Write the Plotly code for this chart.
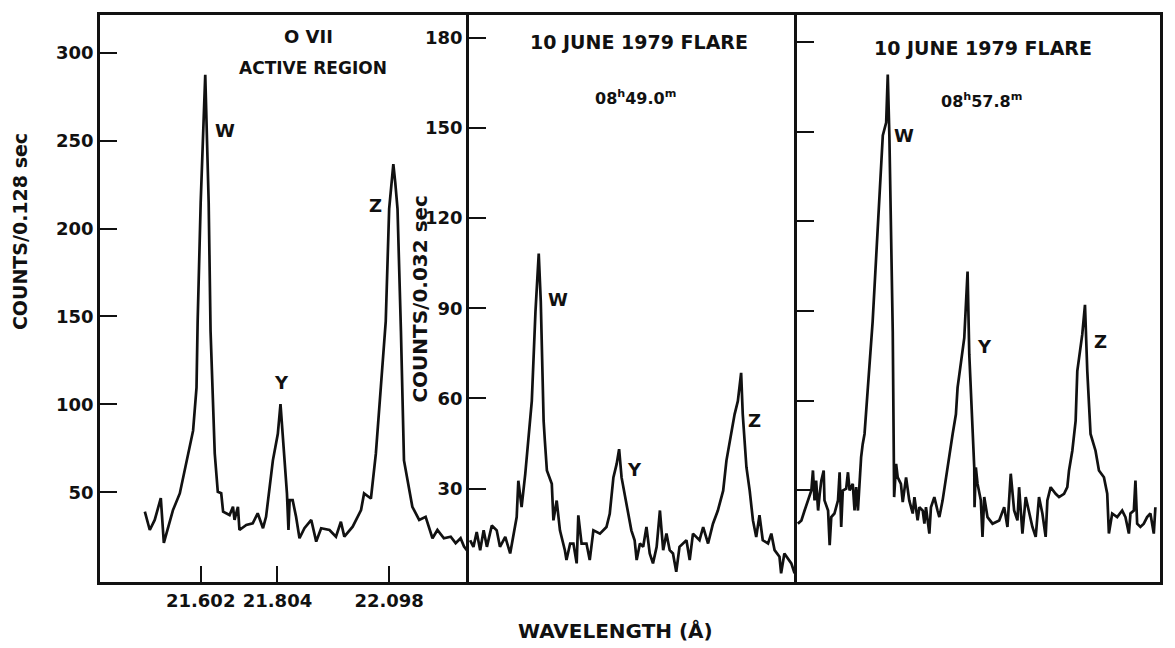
import plotly.graph_objects as go

# ---------------- O VII active region spectrum (counts / 0.128 s) ----------------
ar_wavelength = [21.455, 21.468, 21.481, 21.497, 21.505, 21.529, 21.547, 21.564, 21.582, 21.591,
                 21.594, 21.602, 21.614, 21.623, 21.628, 21.639, 21.647, 21.656, 21.661, 21.678,
                 21.687, 21.691, 21.700, 21.704, 21.722, 21.739, 21.752, 21.766, 21.774, 21.792,
                 21.805, 21.812, 21.822, 21.829, 21.833, 21.836, 21.844, 21.853, 21.862, 21.875,
                 21.893, 21.906, 21.919, 21.941, 21.958, 21.971, 21.980, 22.002, 22.024, 22.032,
                 22.050, 22.063, 22.076, 22.089, 22.098, 22.106, 22.109, 22.114, 22.120, 22.129,
                 22.137, 22.159, 22.177, 22.194, 22.212, 22.225, 22.242, 22.260, 22.273, 22.286,
                 22.295, 22.308]
ar_counts = [38.9, 28.5, 34.2, 46.6, 21.2, 39.8, 49.3, 66.4, 85.0, 109.5,
             147.2, 215.0, 287.5, 215.0, 141.5, 72.0, 50.2, 49.4, 38.9, 37.0,
             41.7, 34.2, 41.7, 28.5, 31.4, 32.3, 38.0, 29.5, 36.0, 68.1,
             83.2, 100.1, 71.9, 49.3, 28.5, 45.5, 45.5, 36.0, 23.8, 29.5,
             34.2, 21.9, 29.5, 28.5, 24.7, 33.2, 24.7, 30.4, 39.8, 49.3,
             46.4, 71.9, 109.5, 147.2, 211.2, 231.9, 236.6, 226.3, 211.2, 141.5,
             68.1, 41.7, 34.2, 36.0, 23.8, 28.5, 23.8, 24.7, 21.0, 23.8,
             19.1, 15.4]

# ---------------- 10 June 1979 flare, 08h49.0m (counts / 0.032 s) ----------------
f1_wavelength = [21.434, 21.442, 21.450, 21.4585, 21.467, 21.475, 21.487, 21.499, 21.507, 21.520,
                 21.532, 21.540, 21.548, 21.552, 21.560, 21.569, 21.577, 21.585, 21.594, 21.602,
                 21.607, 21.614, 21.617, 21.622, 21.634, 21.638, 21.646, 21.654, 21.666, 21.670,
                 21.679, 21.687, 21.695, 21.699, 21.707, 21.719, 21.727, 21.736, 21.752, 21.768,
                 21.776, 21.785, 21.793, 21.799, 21.805, 21.817, 21.829, 21.837, 21.842, 21.850,
                 21.858, 21.866, 21.874, 21.882, 21.891, 21.899, 21.907, 21.915, 21.923, 21.931,
                 21.939, 21.947, 21.964, 21.972, 21.980, 21.996, 22.005, 22.017, 22.029, 22.041,
                 22.054, 22.062, 22.074, 22.082, 22.090, 22.098, 22.102, 22.111, 22.119, 22.127,
                 22.135, 22.143, 22.151, 22.164, 22.172, 22.180, 22.192, 22.196, 22.204, 22.221,
                 22.229]
f1_counts = [12.8, 10.6, 15.5, 9.5, 16.1, 10.6, 17.7, 16.1, 10.6, 13.9,
             8.4, 15.0, 20.5, 32.6, 23.8, 34.9, 48.1, 59.1, 88.9, 108.2,
             92.3, 52.5, 45.9, 36.0, 31.6, 19.4, 26.0, 16.1, 9.5, 6.2,
             11.7, 11.7, 5.1, 21.1, 11.7, 11.7, 6.2, 16.1, 15.0, 17.2,
             21.6, 33.7, 38.2, 43.1, 33.7, 24.9, 16.1, 12.8, 6.2, 11.7,
             10.6, 17.2, 8.4, 5.1, 10.6, 22.7, 9.5, 15.0, 9.5, 8.4,
             2.3, 10.6, 12.8, 6.2, 15.0, 12.8, 17.2, 11.7, 18.3, 22.7,
             29.3, 39.3, 48.1, 54.7, 59.1, 68.5, 54.7, 37.1, 29.3, 19.4,
             13.9, 21.1, 12.8, 11.7, 15.0, 9.5, 7.3, 1.8, 8.4, 5.1,
             1.8]

# ---------------- 10 June 1979 flare, 08h57.8m (counts / 0.032 s) ----------------
f2_wavelength = [21.376, 21.385, 21.393, 21.4015, 21.410, 21.414, 21.418, 21.422, 21.427, 21.431,
                 21.435, 21.441, 21.443, 21.452, 21.456, 21.460, 21.468, 21.477, 21.481, 21.485,
                 21.489, 21.4975, 21.502, 21.506, 21.514, 21.5185, 21.5226, 21.527, 21.531, 21.535,
                 21.539, 21.5436, 21.552, 21.564, 21.5895, 21.598, 21.602, 21.606, 21.6145, 21.617,
                 21.618, 21.623, 21.627, 21.635, 21.6396, 21.648, 21.656, 21.6647, 21.669, 21.677,
                 21.6815, 21.6898, 21.694, 21.698, 21.7065, 21.7105, 21.719, 21.727, 21.7316, 21.7398,
                 21.748, 21.7566, 21.765, 21.7732, 21.7774, 21.7942, 21.8025, 21.8068, 21.815, 21.8193,
                 21.820, 21.8233, 21.8276, 21.8358, 21.840, 21.8444, 21.8526, 21.8652, 21.882, 21.8945,
                 21.9027, 21.911, 21.9195, 21.9278, 21.932, 21.9403, 21.9486, 21.957, 21.9654, 21.9737,
                 21.982, 21.9905, 21.9987, 22.003, 22.0113, 22.0238, 22.0323, 22.0449, 22.0531, 22.0574,
                 22.0657, 22.074, 22.0782, 22.0907, 22.0975, 22.1033, 22.1115, 22.124, 22.1326, 22.1451,
                 22.1534, 22.1576, 22.1659, 22.1784, 22.191, 22.1992, 22.2078, 22.2118, 22.2203, 22.2243,
                 22.2286, 22.2368, 22.2453, 22.2536, 22.2619, 22.2704, 22.2744]
f2_counts = [18.9, 20.0, 23.3, 26.7, 30.0, 36.7, 26.7, 33.3, 23.3, 28.9,
             33.3, 36.7, 26.7, 23.3, 11.7, 21.1, 22.3, 26.7, 36.1, 17.8,
             30.0, 30.6, 36.1, 30.0, 32.2, 23.3, 31.1, 23.3, 32.2, 41.1,
             45.5, 48.9, 64.4, 86.5, 148.7, 153.0, 169.1, 148.7, 83.2, 42.2,
             27.8, 38.9, 34.4, 32.2, 26.1, 34.4, 26.7, 22.3, 27.8, 20.0,
             24.4, 23.3, 18.9, 24.4, 15.6, 24.4, 27.8, 23.3, 21.1, 26.7,
             34.4, 42.2, 48.9, 55.5, 64.4, 81.0, 103.2, 75.5, 53.3, 37.7,
             24.4, 37.7, 32.2, 26.7, 14.5, 27.8, 21.1, 18.9, 20.0, 24.4,
             17.8, 35.6, 23.3, 20.0, 31.1, 15.6, 27.8, 23.3, 17.8, 14.5,
             27.8, 22.3, 14.5, 26.7, 31.1, 28.9, 27.8, 28.9, 31.1, 36.7,
             43.3, 53.3, 69.9, 82.2, 92.1, 69.9, 48.9, 43.3, 36.7, 34.4,
             28.9, 15.6, 22.3, 21.1, 23.3, 21.1, 15.6, 22.3, 23.3, 33.3,
             18.9, 17.8, 18.9, 21.1, 22.3, 15.6, 24.4]

# Axis ticks
ar_yticks = [50, 100, 150, 200, 250, 300]
flare_yticks = [30, 60, 90, 120, 150, 180]
ar_xticks = [21.602, 21.804, 22.098]
ar_xticklabels = ["21.602", "21.804", "22.098"]

# Line labels: (panel, wavelength, counts, text)
line_labels = [
    (1, 21.665, 256.0, "W"), (1, 21.814, 112.4, "Y"), (1, 22.063, 213.4, "Z"),
    (2, 21.649, 92.8, "W"), (2, 21.837, 36.5, "Y"), (2, 22.131, 52.5, "Z"),
    (3, 21.644, 148.6, "W"), (3, 21.844, 78.2, "Y"), (3, 22.137, 79.9, "Z"),
]

# ---------------- figure geometry ----------------
W, H = 1175, 648
L, R, T, B = 100, 1163, 12, 582          # plot-area edges in pixels
split1, split2 = 470, 799                # panel borders in pixels
pw, ph = R - L, B - T


def fx(px):
    return (px - L) / pw


def fy(py):
    return (B - py) / ph


FONT = "DejaVu Sans, Arial, sans-serif"
INK = "#111111"

fig = go.Figure()
for k, (xs, ys) in enumerate([(ar_wavelength, ar_counts),
                              (f1_wavelength, f1_counts),
                              (f2_wavelength, f2_counts)], start=1):
    sfx = "" if k == 1 else str(k)
    fig.add_trace(go.Scatter(x=xs, y=ys, mode="lines", xaxis="x" + sfx, yaxis="y" + sfx,
                             line=dict(color=INK, width=2.7), showlegend=False,
                             hoverinfo="skip"))

axis_common = dict(showline=True, linecolor=INK, linewidth=2.8, mirror=True,
                   showgrid=False, zeroline=False, ticks="inside", tickcolor=INK,
                   tickwidth=2.4, fixedrange=True,
                   tickfont=dict(family=FONT, size=18, color=INK, weight="bold"))

domains = [(0, fx(split1)), (fx(split1), fx(split2)), (fx(split2), 1)]
xranges = [(21.337, 22.308), (21.431, 22.235), (21.374, 22.286)]
yranges = [(-1.1, 321.5), (-1.1, 187.6), (-0.6, 189.0)]

layout = dict(width=W, height=H, margin=dict(l=L, r=W - R, t=T, b=H - B),
              paper_bgcolor="white", plot_bgcolor="white",
              font=dict(family=FONT, color=INK))

for k in range(3):
    sfx = "" if k == 0 else str(k + 1)
    xa = dict(axis_common, domain=list(domains[k]), range=list(xranges[k]),
              anchor="y" + sfx)
    if k == 0:
        xa.update(tickvals=ar_xticks, ticktext=ar_xticklabels, ticklen=16)
    else:
        xa.update(showticklabels=False, ticks="")
    # the shared panel borders are drawn once, by the left axis of the next panel
    ya = dict(axis_common, range=list(yranges[k]), anchor="x" + sfx, ticklen=17,
              mirror=(k == 2))
    if k == 0:
        ya.update(tickvals=ar_yticks)
    elif k == 1:
        ya.update(tickvals=flare_yticks)
    else:
        ya.update(tickvals=flare_yticks, showticklabels=False)
    layout["xaxis" + sfx] = xa
    layout["yaxis" + sfx] = ya

fig.update_layout(**layout)

annotations = []
for panel, lam, cnt, txt in line_labels:
    sfx = "" if panel == 1 else str(panel)
    annotations.append(dict(x=lam, y=cnt, xref="x" + sfx, yref="y" + sfx, text=txt,
                            showarrow=False, xanchor="center", yanchor="middle",
                            font=dict(family=FONT, size=18, color=INK, weight="bold")))


def paper_text(px, py, txt, size=18, angle=0):
    annotations.append(dict(x=fx(px), y=fy(py), xref="paper", yref="paper", text=txt,
                            showarrow=False, textangle=angle,
                            xanchor="center", yanchor="middle",
                            font=dict(family=FONT, size=size, color=INK, weight="bold")))


paper_text(309, 34, "O VII")
paper_text(314, 65, "ACTIVE REGION", size=17)
paper_text(641, 39, "10 JUNE 1979 FLARE", size=19)
paper_text(637, 95, "08<sup>h</sup>49.0<sup>m</sup>", size=16)
paper_text(985, 45, "10 JUNE 1979 FLARE", size=19)
paper_text(984, 98, "08<sup>h</sup>57.8<sup>m</sup>", size=16)
paper_text(20, 230, "COUNTS/0.128 sec", size=19, angle=-90)
paper_text(420, 297, "COUNTS/0.032 sec", size=20, angle=-90)
paper_text(617, 631, "WAVELENGTH (Å)", size=20)

fig.update_layout(annotations=annotations)
fig.write_html("out.html")
